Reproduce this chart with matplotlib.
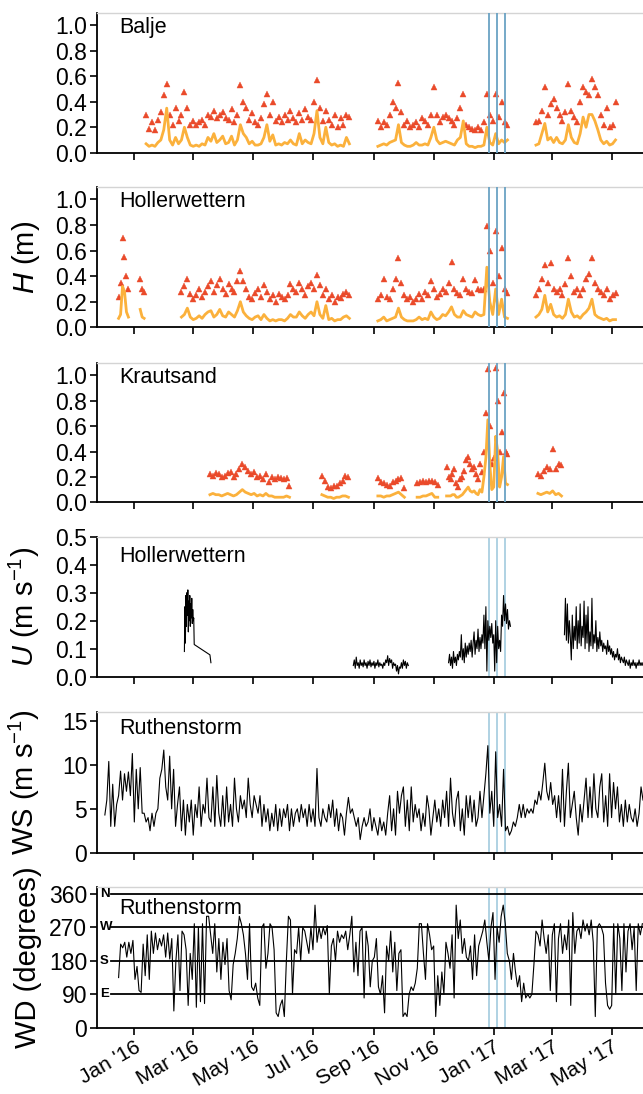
import numpy as np
import pandas as pd
import matplotlib
matplotlib.use('Agg')
import matplotlib.pyplot as plt
import matplotlib.dates as mdates
from matplotlib.ticker import FixedLocator, FormatStrFormatter

plt.rcParams['font.family'] = ['Liberation Sans', 'DejaVu Sans']
plt.rcParams['mathtext.fontset'] = 'custom'
plt.rcParams['mathtext.rm'] = 'Liberation Sans'
plt.rcParams['mathtext.it'] = 'Liberation Sans:italic'

# ---------------- data ----------------
storm_dates = ['2016-12-27', '2017-01-04', '2017-01-12']

# Balje: (start, step, max H triangles, mean H line)
balje_starts = ['2016-01-13', '2016-09-05', '2017-02-13']
balje_steps = ['3D', '3D', '3D']
balje_max = [
    [0.30, 0.19, 0.24, 0.18, 0.26, 0.32, 0.45, 0.54, 0.30, 0.22, 0.35, 0.25, 0.30, 0.48, 0.35, 0.22, 0.25, 0.22,
     0.24, 0.26, 0.22, 0.30, 0.28, 0.33, 0.27, 0.30, 0.32, 0.27, 0.26, 0.34, 0.24, 0.30, 0.53, 0.40, 0.35, 0.26,
     0.31, 0.24, 0.22, 0.27, 0.38, 0.46, 0.30, 0.40, 0.25, 0.28, 0.24, 0.30, 0.26, 0.33, 0.27, 0.24, 0.31, 0.26,
     0.34, 0.28, 0.26, 0.40, 0.57, 0.35, 0.25, 0.33, 0.26, 0.22, 0.30, 0.20, 0.27, 0.22, 0.30, 0.28],
    [0.25, 0.20, 0.24, 0.22, 0.30, 0.40, 0.35, 0.55, 0.32, 0.22, 0.25, 0.20, 0.22, 0.24, 0.20, 0.27, 0.25, 0.22,
     0.30, 0.52, 0.30, 0.24, 0.28, 0.30, 0.27, 0.25, 0.22, 0.27, 0.35, 0.46, 0.22, 0.20, 0.19, 0.18, 0.20, 0.18,
     0.24, 0.46, 0.30, 0.25, 0.46, 0.28, 0.40, 0.24, 0.22],
    [0.24, 0.25, 0.33, 0.52, 0.30, 0.38, 0.42, 0.35, 0.30, 0.25, 0.32, 0.54, 0.33, 0.28, 0.24, 0.40, 0.52, 0.48,
     0.45, 0.58, 0.52, 0.45, 0.30, 0.22, 0.35, 0.20, 0.22, 0.40],
]
balje_mean = [
    [0.07, 0.05, 0.06, 0.05, 0.08, 0.10, 0.18, 0.35, 0.10, 0.06, 0.12, 0.07, 0.10, 0.20, 0.12, 0.06, 0.05, 0.06,
     0.05, 0.07, 0.06, 0.12, 0.09, 0.15, 0.08, 0.10, 0.13, 0.07, 0.08, 0.13, 0.06, 0.10, 0.22, 0.15, 0.12, 0.07,
     0.09, 0.06, 0.06, 0.07, 0.12, 0.22, 0.09, 0.14, 0.06, 0.07, 0.06, 0.08, 0.07, 0.10, 0.07, 0.06, 0.15, 0.07,
     0.10, 0.08, 0.07, 0.15, 0.33, 0.12, 0.07, 0.20, 0.08, 0.06, 0.07, 0.05, 0.06, 0.05, 0.12, 0.07],
    [0.05, 0.06, 0.07, 0.06, 0.08, 0.09, 0.10, 0.22, 0.08, 0.06, 0.05, 0.05, 0.06, 0.08, 0.06, 0.06, 0.07, 0.06,
     0.12, 0.20, 0.10, 0.07, 0.08, 0.09, 0.08, 0.07, 0.06, 0.10, 0.12, 0.25, 0.07, 0.05, 0.05, 0.04, 0.05, 0.05,
     0.06, 0.20, 0.08, 0.06, 0.15, 0.07, 0.10, 0.08, 0.10],
    [0.06, 0.07, 0.15, 0.23, 0.10, 0.12, 0.08, 0.12, 0.08, 0.07, 0.10, 0.22, 0.12, 0.08, 0.07, 0.15, 0.28, 0.20,
     0.30, 0.30, 0.25, 0.18, 0.10, 0.07, 0.09, 0.06, 0.07, 0.10],
]

# Hollerwettern water level
holler_starts = ['2015-12-16', '2016-01-07', '2016-02-18', '2016-09-05', '2017-02-13']
holler_steps = ['2D', '2D', '3D', '3D', '3D']
holler_max = [
    [0.24, 0.35, 0.70, 0.55, 0.40, 0.30],
    [0.38, 0.30, 0.28],
    [0.28, 0.32, 0.38, 0.26, 0.22, 0.25, 0.30, 0.24, 0.28, 0.32, 0.36, 0.28, 0.33, 0.38, 0.30, 0.26, 0.34, 0.30,
     0.28, 0.36, 0.44, 0.36, 0.30, 0.24, 0.22, 0.27, 0.30, 0.24, 0.33, 0.28, 0.22, 0.25, 0.20, 0.26, 0.24, 0.22,
     0.25, 0.34, 0.30, 0.28, 0.35, 0.30, 0.25, 0.32, 0.35, 0.30, 0.41, 0.33, 0.25, 0.30, 0.22, 0.25, 0.20, 0.24,
     0.23, 0.26, 0.28, 0.25],
    [0.22, 0.25, 0.38, 0.24, 0.22, 0.30, 0.38, 0.54, 0.35, 0.25, 0.22, 0.24, 0.20, 0.22, 0.26, 0.22, 0.28, 0.25,
     0.36, 0.30, 0.24, 0.26, 0.30, 0.28, 0.35, 0.51, 0.30, 0.27, 0.25, 0.38, 0.30, 0.28, 0.27, 0.37, 0.30, 0.29,
     0.30, 0.79, 0.60, 0.35, 0.75, 0.40, 0.62, 0.30, 0.27],
    [0.25, 0.30, 0.38, 0.49, 0.35, 0.50, 0.30, 0.28, 0.30, 0.25, 0.34, 0.54, 0.40, 0.28, 0.30, 0.25, 0.30, 0.38,
     0.42, 0.54, 0.35, 0.30, 0.28, 0.25, 0.30, 0.22, 0.25, 0.27],
]
holler_mean = [
    [0.07, 0.10, 0.32, 0.28, 0.12, 0.08],
    [0.14, 0.08, 0.07],
    [0.08, 0.10, 0.15, 0.08, 0.06, 0.07, 0.09, 0.07, 0.10, 0.12, 0.13, 0.08, 0.10, 0.14, 0.09, 0.08, 0.12, 0.10,
     0.08, 0.13, 0.20, 0.12, 0.09, 0.07, 0.06, 0.08, 0.09, 0.06, 0.10, 0.07, 0.05, 0.06, 0.05, 0.06, 0.06, 0.05,
     0.07, 0.10, 0.08, 0.08, 0.12, 0.09, 0.07, 0.10, 0.12, 0.09, 0.20, 0.10, 0.07, 0.17, 0.06, 0.07, 0.05, 0.06,
     0.06, 0.08, 0.09, 0.07],
    [0.05, 0.06, 0.08, 0.05, 0.06, 0.07, 0.08, 0.15, 0.08, 0.06, 0.05, 0.05, 0.05, 0.06, 0.08, 0.06, 0.07, 0.06,
     0.12, 0.08, 0.06, 0.07, 0.10, 0.09, 0.12, 0.16, 0.10, 0.08, 0.08, 0.13, 0.10, 0.09, 0.08, 0.12, 0.10, 0.09,
     0.10, 0.47, 0.20, 0.10, 0.30, 0.10, 0.22, 0.08, 0.07],
    [0.08, 0.10, 0.14, 0.25, 0.12, 0.18, 0.10, 0.08, 0.09, 0.07, 0.10, 0.22, 0.12, 0.08, 0.09, 0.07, 0.10, 0.12,
     0.15, 0.22, 0.10, 0.08, 0.07, 0.06, 0.07, 0.05, 0.06, 0.06],
]

# Krautsand water level
kraut_starts = ['2016-03-18', '2016-07-10', '2016-09-05', '2016-10-15', '2016-11-14', '2017-02-15']
kraut_steps = ['3D', '3D', '3D', '3D', '2D', '3D']
kraut_max = [
    [0.22, 0.21, 0.23, 0.22, 0.20, 0.21, 0.23, 0.24, 0.20, 0.22, 0.26, 0.30, 0.28, 0.25, 0.22, 0.24, 0.20, 0.21,
     0.18, 0.22, 0.16, 0.20, 0.18, 0.20, 0.19, 0.18, 0.19, 0.13],
    [0.21, 0.17, 0.12, 0.11, 0.13, 0.13, 0.15, 0.17, 0.21, 0.20],
    [0.19, 0.16, 0.15, 0.14, 0.13, 0.16, 0.17, 0.18, 0.19, 0.11],
    [0.15, 0.16, 0.17, 0.16, 0.17, 0.17, 0.16, 0.14],
    [0.28, 0.20, 0.18, 0.22, 0.26, 0.15, 0.12, 0.18, 0.20, 0.25, 0.33, 0.36, 0.30, 0.26, 0.28, 0.22, 0.18, 0.30,
     0.24, 0.40, 0.70, 1.05, 0.60, 0.30, 0.35, 1.06, 0.80, 0.40, 0.55, 0.86, 0.40, 0.38],
    [0.22, 0.21, 0.25, 0.28, 0.26, 0.42, 0.26, 0.30, 0.29],
]
kraut_mean = [
    [0.06, 0.07, 0.06, 0.06, 0.05, 0.06, 0.07, 0.06, 0.05, 0.06, 0.08, 0.10, 0.08, 0.07, 0.06, 0.07, 0.05, 0.06,
     0.05, 0.07, 0.05, 0.05, 0.04, 0.04, 0.04, 0.04, 0.05, 0.04],
    [0.06, 0.05, 0.04, 0.04, 0.03, 0.04, 0.04, 0.05, 0.05, 0.04],
    [0.05, 0.05, 0.04, 0.05, 0.05, 0.06, 0.07, 0.08, 0.06, 0.04],
    [0.04, 0.04, 0.05, 0.05, 0.06, 0.07, 0.04, 0.04],
    [0.05, 0.05, 0.05, 0.06, 0.06, 0.04, 0.04, 0.05, 0.06, 0.08, 0.10, 0.12, 0.09, 0.08, 0.09, 0.07, 0.06, 0.10,
     0.08, 0.20, 0.35, 0.65, 0.30, 0.10, 0.12, 0.52, 0.40, 0.12, 0.20, 0.36, 0.15, 0.14],
    [0.07, 0.06, 0.07, 0.08, 0.07, 0.09, 0.06, 0.07, 0.05],
]

# Hollerwettern current velocity U
u_starts = ['2016-02-21', '2016-08-11', '2016-11-16', '2017-03-14']
u_steps = ['12h', '1D', '1D', '1D']
u_vals = [
    [0.09, 0.25, 0.12, 0.29, 0.18, 0.30, 0.22, 0.31, 0.16, 0.27, 0.20, 0.29, 0.18, 0.26, 0.21, 0.28, 0.19, 0.24,
     0.20, 0.21],
    [0.04, 0.06, 0.03, 0.07, 0.04, 0.05, 0.03, 0.06, 0.04, 0.05, 0.035, 0.06, 0.04, 0.05, 0.03, 0.055, 0.04, 0.06,
     0.035, 0.05, 0.04, 0.055, 0.03, 0.05, 0.04, 0.06, 0.035, 0.05, 0.04, 0.045, 0.03, 0.05, 0.04, 0.06, 0.05,
     0.075, 0.04, 0.065, 0.05, 0.06, 0.03, 0.05, 0.04, 0.045, 0.02, 0.04, 0.01, 0.035, 0.03, 0.05, 0.03, 0.06,
     0.04, 0.055, 0.03, 0.05, 0.04],
    [0.05, 0.08, 0.04, 0.07, 0.03, 0.09, 0.05, 0.07, 0.04, 0.08, 0.06, 0.09, 0.07, 0.15, 0.06, 0.10, 0.05, 0.12,
     0.07, 0.11, 0.08, 0.12, 0.09, 0.13, 0.07, 0.12, 0.16, 0.08, 0.13, 0.10, 0.17, 0.09, 0.14, 0.10, 0.15, 0.12,
     0.22, 0.10, 0.25, 0.02, 0.20, 0.13, 0.18, 0.14, 0.19, 0.12, 0.15, 0.02, 0.20, 0.05, 0.18, 0.10, 0.13, 0.09,
     0.22, 0.18, 0.29, 0.20, 0.26, 0.19, 0.24, 0.17, 0.20, 0.18],
    [0.15, 0.28, 0.13, 0.26, 0.12, 0.20, 0.14, 0.06, 0.22, 0.10, 0.18, 0.13, 0.25, 0.10, 0.20, 0.12, 0.26, 0.11,
     0.18, 0.14, 0.27, 0.10, 0.22, 0.12, 0.25, 0.09, 0.16, 0.11, 0.28, 0.10, 0.15, 0.12, 0.20, 0.09, 0.14, 0.10,
     0.16, 0.11, 0.13, 0.09, 0.12, 0.10, 0.11, 0.08, 0.13, 0.09, 0.11, 0.08, 0.10, 0.07, 0.09, 0.06, 0.08, 0.07,
     0.10, 0.06, 0.08, 0.05, 0.07, 0.06, 0.05, 0.07, 0.04, 0.06, 0.05, 0.04, 0.06, 0.03, 0.05, 0.04, 0.06, 0.04,
     0.05, 0.03, 0.05, 0.04, 0.06, 0.04, 0.05, 0.04, 0.05],
]
u_tail_dates = ['2016-03-02', '2016-03-18', '2016-03-19']
u_tail_vals = [0.115, 0.078, 0.05]

# Ruthenstorm wind speed (every 2 days) and direction (every 50 h)
ws_start = '2015-12-02'
ws_vals = [
    4.3, 6.0, 10.4, 3.0, 7.8, 3.0, 5.5, 6.5, 9.3, 6.0,
    9.0, 7.0, 9.2, 6.5, 11.3, 3.5, 9.5, 5.0, 9.7, 4.5,
    4.5, 3.5, 4.0, 2.5, 4.5, 3.0, 4.5, 5.0, 8.5, 9.5,
    11.7, 7.5, 6.0, 11.0, 5.0, 9.5, 3.0, 5.5, 7.5, 2.5,
    6.0, 2.0, 5.5, 3.5, 6.0, 2.0, 5.5, 4.0, 7.5, 3.0,
    5.5, 4.5, 8.5, 4.0, 3.5, 7.5, 3.0, 8.8, 4.5, 3.0,
    6.5, 3.0, 7.5, 3.5, 5.5, 3.0, 8.5, 5.0, 3.5, 6.5,
    5.0, 6.0, 4.0, 8.5, 5.5, 4.0, 6.5, 5.5, 4.5, 6.5,
    3.0, 5.5, 3.5, 5.0, 2.5, 4.5, 3.0, 5.5, 2.5, 5.0,
    3.0, 5.0, 4.0, 5.5, 2.5, 5.0, 3.0, 4.5, 5.0, 3.5,
    5.5, 4.0, 5.0, 3.0, 5.5, 3.5, 5.0, 3.0, 9.6, 4.0,
    3.0, 5.0, 4.0, 3.5, 5.5, 4.0, 6.0, 3.0, 5.0, 2.5,
    4.5, 4.0, 2.0, 4.5, 6.3, 4.5, 5.0, 4.0, 3.0, 4.0,
    1.5, 3.0, 4.0, 3.0, 3.5, 5.0, 2.5, 4.0, 3.0, 2.0,
    4.0, 2.5, 3.5, 2.0, 4.5, 6.5, 2.5, 5.0, 2.0, 7.0,
    4.5, 6.5, 7.5, 3.0, 6.0, 2.5, 7.5, 3.5, 5.5, 4.0,
    5.0, 2.5, 4.5, 3.0, 6.5, 5.0, 2.0, 4.0, 6.0, 3.5,
    5.0, 3.0, 6.0, 4.0, 7.0, 3.0, 8.5, 4.5, 3.0, 6.0,
    7.0, 2.5, 5.0, 2.0, 6.5, 4.0, 6.5, 3.5, 6.0, 3.0,
    4.0, 7.0, 4.0, 6.5, 9.0, 12.2, 4.5, 7.0, 3.0, 11.5,
    4.0, 5.5, 3.0, 9.5, 2.5, 3.0, 2.0, 2.5, 3.5, 3.0,
    4.0, 5.5, 4.0, 5.5, 4.0, 5.0, 4.5, 5.0, 4.5, 6.0,
    5.5, 7.0, 6.0, 8.0, 10.2, 7.0, 6.0, 8.0, 5.5, 6.5,
    4.0, 6.5, 3.5, 9.5, 3.0, 7.0, 10.2, 4.0, 5.5, 7.0,
    4.0, 2.0, 5.5, 3.5, 6.0, 8.5, 4.0, 7.5, 4.0, 9.0,
    5.0, 4.0, 7.5, 9.0, 3.5, 6.5, 3.0, 9.0, 4.0, 8.0,
    5.0, 7.5, 3.5, 5.5, 3.0, 6.0, 3.5, 5.5, 4.0, 3.5,
    5.0, 3.0, 4.5, 7.5, 6.0,
]
wd_start = '2015-12-16'
wd_vals = [
    135, 225, 215, 230, 190, 230, 200, 235, 130, 165,
    100, 95, 225, 140, 250, 130, 260, 200, 255, 210,
    240, 220, 250, 190, 255, 185, 240, 45, 180, 250,
    100, 260, 250, 210, 60, 200, 130, 280, 55, 270,
    70, 280, 65, 300, 300, 250, 200, 280, 150, 240,
    130, 230, 170, 240, 100, 75, 170, 200, 240, 300,
    280, 250, 200, 130, 280, 110, 100, 120, 80, 60,
    270, 280, 160, 200, 280, 270, 210, 40, 30, 60,
    75, 30, 180, 300, 290, 90, 210, 200, 270, 180,
    270, 260, 230, 200, 270, 210, 330, 230, 270, 240,
    270, 250, 275, 90, 220, 240, 180, 260, 230, 250,
    240, 260, 210, 250, 300, 150, 230, 140, 260, 270,
    80, 260, 220, 110, 180, 190, 240, 110, 90, 140,
    40, 220, 180, 260, 150, 230, 100, 200, 210, 30,
    40, 30, 90, 110, 100, 120, 160, 280, 280, 200,
    130, 280, 250, 210, 220, 30, 140, 60, 150, 90,
    230, 200, 160, 250, 80, 330, 240, 290, 200, 240,
    190, 180, 220, 130, 250, 140, 220, 240, 260, 290,
    230, 180, 270, 310, 130, 270, 230, 300, 330, 280,
    200, 180, 130, 200, 150, 110, 140, 70, 120, 80,
    90, 80, 90, 170, 260, 250, 220, 290, 240, 200,
    250, 100, 250, 280, 70, 240, 280, 200, 250, 210,
    290, 60, 310, 200, 260, 270, 240, 290, 260, 280,
    250, 290, 230, 30, 270, 280, 270, 250, 120, 60,
    50, 60, 280, 90, 280, 240, 100, 280, 150, 260,
    280, 210, 270, 100, 280, 250, 280,
]
compass_deg = [90, 180, 270, 360]
compass_lbl = ['E', 'S', 'W', 'N']

x_range = ['2015-11-24', '2017-06-02']
month_ticks = ['2016-01-01', '2016-03-01', '2016-05-01', '2016-07-01', '2016-09-01', '2016-11-01',
               '2017-01-01', '2017-03-01', '2017-05-01']

# ---------------- style ----------------
RED = '#ea4a2a'
ORANGE = '#fbb13c'
BLUE_DARK = '#6aa2c4'
BLUE_LIGHT = '#a9cfe0'
TICK_FS = 16.5
XTICK_FS = 15
NAME_FS = 15.5
YLAB_FS = 21
W, H = 643, 1094
fig = plt.figure(figsize=(W / 100, H / 100), dpi=100)

panel_px = [(12.7, 152.7), (186.7, 327.3), (362.7, 502.3), (536.7, 676.7), (712.3, 852.7), (887.3, 1027.7)]
left_px = 97.0
axes = []
for top, bot in panel_px:
    ax = fig.add_axes([left_px / W, 1 - bot / H, 1 - left_px / W, (bot - top) / H])
    axes.append(ax)

xlim = [pd.Timestamp(d) for d in x_range]
ticks = [pd.Timestamp(d) for d in month_ticks]
for ax in axes:
    ax.set_xlim(xlim)
    ax.xaxis.set_major_locator(FixedLocator(mdates.date2num(ticks)))
    ax.xaxis.set_major_formatter(mdates.DateFormatter("%b '%y"))
    ax.spines['right'].set_visible(False)
    ax.spines['top'].set_color('#d4d4d4')
    ax.spines['top'].set_linewidth(1.0)
    ax.spines['left'].set_linewidth(1.3)
    ax.spines['bottom'].set_linewidth(1.3)
    ax.tick_params(axis='both', direction='out', length=5, width=1.2, labelsize=TICK_FS, pad=2)
    ax.set_facecolor('white')

def plot_h(ax, starts, steps, maxes, means, name):
    for s, st, mx, mn in zip(starts, steps, maxes, means):
        t1 = pd.date_range(s, periods=len(mx), freq=st)
        t2 = pd.date_range(s, periods=len(mn), freq=st)
        ax.plot(t1, mx, linestyle='none', marker='^', ms=4.2, color=RED, mec=RED, mew=0.3, zorder=3)
        ax.plot(t2, mn, color=ORANGE, lw=2.0, zorder=4)
    ax.set_ylim(0, 1.1)
    ax.yaxis.set_major_locator(FixedLocator([0, 0.2, 0.4, 0.6, 0.8, 1.0]))
    ax.yaxis.set_major_formatter(FormatStrFormatter('%.1f'))
    ax.text(0.04, 0.895, name, transform=ax.transAxes, fontsize=NAME_FS, va='center', ha='left')
    for d in storm_dates:
        ax.axvline(pd.Timestamp(d), color=BLUE_DARK, lw=1.3, zorder=5)

plot_h(axes[0], balje_starts, balje_steps, balje_max, balje_mean, 'Balje')
plot_h(axes[1], holler_starts, holler_steps, holler_max, holler_mean, 'Hollerwettern')
plot_h(axes[2], kraut_starts, kraut_steps, kraut_max, kraut_mean, 'Krautsand')
axes[1].set_ylabel('$\\mathit{H}$ (m)', fontsize=YLAB_FS)

# U panel
ax = axes[3]
for i, (s, st, v) in enumerate(zip(u_starts, u_steps, u_vals)):
    t = list(pd.date_range(s, periods=len(v), freq=st))
    vv = list(v)
    if i == 0:
        t += [pd.Timestamp(d) for d in u_tail_dates]
        vv += u_tail_vals
    ax.plot(t, vv, color='black', lw=0.8, zorder=3)
ax.set_ylim(0, 0.5)
ax.yaxis.set_major_locator(FixedLocator([0, 0.1, 0.2, 0.3, 0.4, 0.5]))
ax.yaxis.set_major_formatter(FormatStrFormatter('%.1f'))
ax.text(0.04, 0.86, 'Hollerwettern', transform=ax.transAxes, fontsize=NAME_FS, va='center', ha='left')
ax.set_ylabel('$\\mathit{U}$ (m s$^{-1}$)', fontsize=YLAB_FS)

# WS panel
ax = axes[4]
t = pd.date_range(ws_start, periods=len(ws_vals), freq='2D')
ax.plot(t, ws_vals, color='black', lw=0.8, zorder=3)
ax.set_ylim(0, 16)
ax.yaxis.set_major_locator(FixedLocator([0, 5, 10, 15]))
ax.text(0.04, 0.885, 'Ruthenstorm', transform=ax.transAxes, fontsize=NAME_FS, va='center', ha='left')
ax.set_ylabel('WS (m s$^{-1}$)', fontsize=YLAB_FS)

# WD panel
ax = axes[5]
t = pd.date_range(wd_start, periods=len(wd_vals), freq='50h')
ax.plot(t, wd_vals, color='black', lw=0.8, zorder=3)
for deg, lbl in zip(compass_deg, compass_lbl):
    ax.axhline(deg, xmin=0.025, xmax=1, color='black', lw=1.3, zorder=2)
    ax.text(0.005, deg, lbl, transform=ax.get_yaxis_transform(), fontsize=9.5, fontweight='bold',
            va='center', ha='left')
ax.set_ylim(0, 378)
ax.yaxis.set_major_locator(FixedLocator([0, 90, 180, 270, 360]))
ax.text(0.04, 0.85, 'Ruthenstorm', transform=ax.transAxes, fontsize=NAME_FS, va='center', ha='left')
ax.set_ylabel('WD (degrees)', fontsize=YLAB_FS)

for ax in axes[3:]:
    for d in storm_dates:
        ax.axvline(pd.Timestamp(d), color=BLUE_LIGHT, lw=1.3, zorder=1)

for ax in axes[:-1]:
    ax.tick_params(axis='x', labelbottom=False)
for lbl in axes[-1].get_xticklabels():
    lbl.set_rotation(30)
    lbl.set_ha('right')
    lbl.set_rotation_mode('anchor')
    lbl.set_fontsize(XTICK_FS)

for ax in axes:
    ax.yaxis.set_label_coords(-0.1, 0.5)

fig.savefig('out.png', dpi=100, facecolor='white')
